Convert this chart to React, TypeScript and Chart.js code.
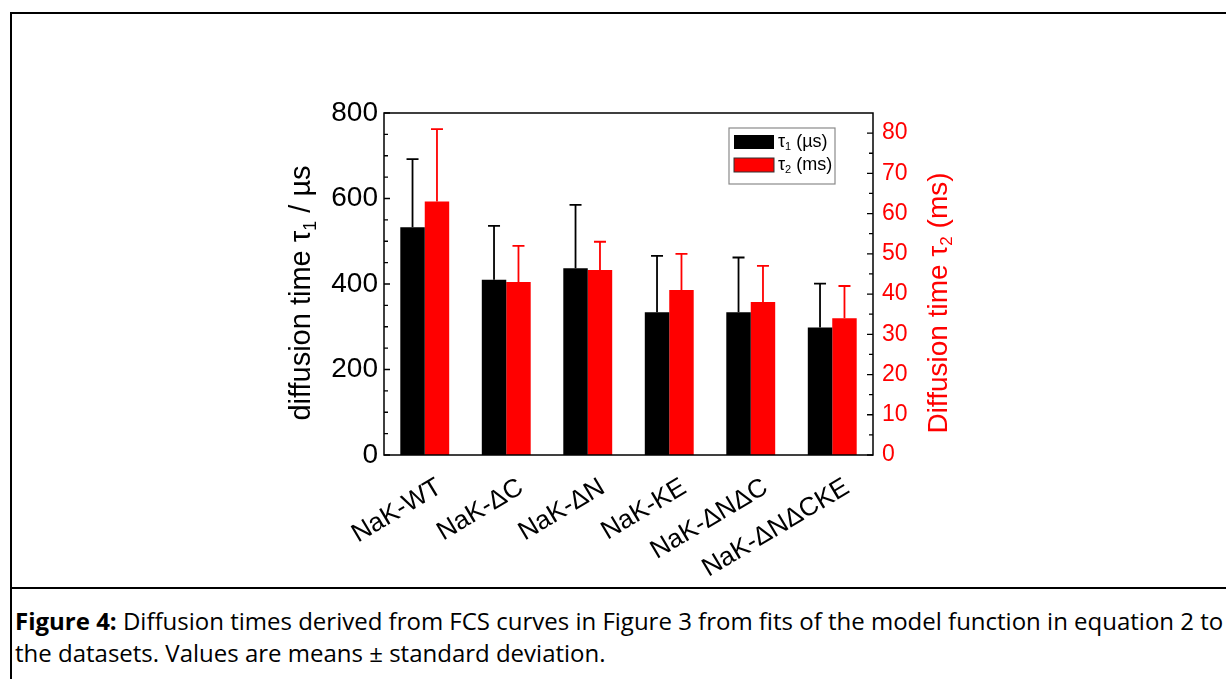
import React, { useEffect, useRef } from "react";
import { Chart, registerables } from "chart.js";

Chart.register(...registerables);

// ---- data ----
const categories = ["NaK-WT", "NaK-ΔC", "NaK-ΔN", "NaK-KE", "NaK-ΔNΔC", "NaK-ΔNΔCKE"];
const tau1Mean = [533, 410, 437, 334, 334, 298]; // µs
const tau1SD = [159, 126, 148, 132, 128, 103];
const tau2Mean = [63, 43, 46, 41, 38, 34]; // ms
const tau2SD = [18, 9, 7, 9, 9, 8];

const leftTicks = [0, 200, 400, 600, 800];
const leftMinorTicks = [50, 100, 150, 250, 300, 350, 450, 500, 550, 650, 700, 750];
const rightTicks = [0, 10, 20, 30, 40, 50, 60, 70, 80];
const rightMinorTicks = [5, 15, 25, 35, 45, 55, 65, 75];

const leftTitle = [{ text: "diffusion time τ" }, { text: "1", sub: true }, { text: " / µs" }];
const rightTitle = [{ text: "Diffusion time τ" }, { text: "2", sub: true }, { text: " (ms)" }];
const legend1 = [{ text: "τ" }, { text: "1", sub: true }, { text: " (µs)" }];
const legend2 = [{ text: "τ" }, { text: "2", sub: true }, { text: " (ms)" }];

const BLACK = "#000000";
const RED = "#ff0000";
const FONT = "'Liberation Sans', Arial, Helvetica, sans-serif";

function measureParts(ctx: any, parts: any[], size: number) {
  const mainFont = `${size}px ${FONT}`;
  const subFont = `${Math.round(size * 0.62)}px ${FONT}`;
  let total = 0;
  const widths = parts.map((p) => {
    ctx.font = p.sub ? subFont : mainFont;
    const w = ctx.measureText(p.text).width;
    total += w;
    return w;
  });
  return { widths, total, mainFont, subFont };
}

function drawParts(ctx: any, parts: any[], size: number, color: string, x: number, y: number, angle: number, centered: boolean) {
  ctx.save();
  ctx.translate(x, y);
  ctx.rotate(angle);
  ctx.fillStyle = color;
  ctx.textBaseline = "middle";
  ctx.textAlign = "left";
  const m = measureParts(ctx, parts, size);
  let cx = centered ? -m.total / 2 : 0;
  parts.forEach((p, i) => {
    ctx.font = p.sub ? m.subFont : m.mainFont;
    ctx.fillText(p.text, cx, p.sub ? size * 0.3 : 0);
    cx += m.widths[i];
  });
  ctx.restore();
}

const decorPlugin = {
  id: "decor",
  afterDatasetsDraw(chart: any) {
    const ctx = chart.ctx;
    chart.data.datasets.forEach((ds: any, di: number) => {
      const meta = chart.getDatasetMeta(di);
      const scale = chart.scales[ds.yAxisID];
      ctx.save();
      ctx.strokeStyle = ds.errColor;
      ctx.lineWidth = 1.8;
      meta.data.forEach((el: any, i: number) => {
        const top = scale.getPixelForValue(ds.data[i] + ds.errors[i]);
        ctx.beginPath();
        ctx.moveTo(el.x, el.y);
        ctx.lineTo(el.x, top);
        ctx.moveTo(el.x - 6, top);
        ctx.lineTo(el.x + 6, top);
        ctx.stroke();
      });
      ctx.restore();
    });
  },
  afterDraw(chart: any) {
    const ctx = chart.ctx;
    const { left, right, top, bottom } = chart.chartArea;
    const yL = chart.scales.y;
    const yR = chart.scales.y1;
    ctx.save();
    // frame
    ctx.strokeStyle = BLACK;
    ctx.lineWidth = 1.5;
    ctx.strokeRect(left, top, right - left, bottom - top);
    // inward ticks
    ctx.lineWidth = 1.3;
    ctx.beginPath();
    leftTicks.forEach((v) => {
      const p = yL.getPixelForValue(v);
      ctx.moveTo(left, p);
      ctx.lineTo(left + 6, p);
    });
    leftMinorTicks.forEach((v) => {
      const p = yL.getPixelForValue(v);
      ctx.moveTo(left, p);
      ctx.lineTo(left + 4, p);
    });
    rightTicks.forEach((v) => {
      const p = yR.getPixelForValue(v);
      ctx.moveTo(right, p);
      ctx.lineTo(right - 6, p);
    });
    rightMinorTicks.forEach((v) => {
      const p = yR.getPixelForValue(v);
      ctx.moveTo(right, p);
      ctx.lineTo(right - 4, p);
    });
    ctx.stroke();
    ctx.restore();

    // axis titles
    const midY = (top + bottom) / 2;
    drawParts(ctx, leftTitle, 29, BLACK, left - 82, midY + 9, -Math.PI / 2, true);
    drawParts(ctx, rightTitle, 28, RED, right + 66, midY + 19, -Math.PI / 2, true);

    // legend
    const bx = right - 144;
    const by = top + 15;
    ctx.save();
    ctx.fillStyle = "#ffffff";
    ctx.fillRect(bx, by, 106, 56);
    ctx.strokeStyle = "#8a8a8a";
    ctx.lineWidth = 1.2;
    ctx.strokeRect(bx, by, 106, 56);
    ctx.fillStyle = BLACK;
    ctx.fillRect(bx + 5, by + 7, 40, 14);
    ctx.fillStyle = RED;
    ctx.fillRect(bx + 5, by + 30, 40, 14);
    ctx.strokeStyle = "#333";
    ctx.lineWidth = 1;
    ctx.strokeRect(bx + 5, by + 30, 40, 14);
    ctx.restore();
    drawParts(ctx, legend1, 18, BLACK, bx + 49, by + 14, 0, false);
    drawParts(ctx, legend2, 18, BLACK, bx + 49, by + 37, 0, false);
  },
};

export default function App() {
  const ref = useRef<HTMLCanvasElement>(null);

  useEffect(() => {
    if (!ref.current) return;
    const chart = new Chart(ref.current, {
      type: "bar",
      data: {
        labels: categories,
        datasets: [
          {
            label: "τ1 (µs)",
            data: tau1Mean,
            backgroundColor: BLACK,
            borderWidth: 0,
            yAxisID: "y",
            errors: tau1SD,
            errColor: BLACK,
          } as any,
          {
            label: "τ2 (ms)",
            data: tau2Mean,
            backgroundColor: RED,
            borderWidth: 0,
            yAxisID: "y1",
            errors: tau2SD,
            errColor: RED,
          } as any,
        ],
      },
      options: {
        responsive: false,
        animation: false,
        devicePixelRatio: 1,
        layout: { padding: { left: 300, right: 300, top: 113, bottom: 0 } },
        datasets: { bar: { categoryPercentage: 0.6, barPercentage: 1.0 } },
        plugins: { legend: { display: false }, tooltip: { enabled: false } },
        scales: {
          x: {
            type: "category",
            offset: true,
            grid: { display: false, drawTicks: false },
            border: { display: false },
            ticks: {
              autoSkip: false,
              minRotation: 31,
              maxRotation: 31,
              padding: 17,
              labelOffset: 15,
              color: BLACK,
              font: { family: FONT, size: 26 },
            },
            afterFit: (s: any) => {
              s.height = 131;
            },
          },
          y: {
            type: "linear",
            position: "left",
            min: 0,
            max: 800,
            grid: { display: false, drawTicks: false },
            border: { display: false },
            ticks: { padding: 6, color: BLACK, font: { family: FONT, size: 28 } },
            afterBuildTicks: (s: any) => {
              s.ticks = leftTicks.map((v) => ({ value: v }));
            },
            afterFit: (s: any) => {
              s.width = 84;
            },
          },
          y1: {
            type: "linear",
            position: "right",
            min: 0,
            max: 85,
            grid: { display: false, drawTicks: false },
            border: { display: false },
            ticks: { padding: 9, color: RED, includeBounds: false, font: { family: FONT, size: 23 } },
            afterBuildTicks: (s: any) => {
              s.ticks = rightTicks.map((v) => ({ value: v }));
            },
            afterFit: (s: any) => {
              s.width = 53;
            },
          },
        },
      } as any,
      plugins: [decorPlugin],
    });
    return () => chart.destroy();
  }, []);

  return (
    <div
      style={{
        position: "absolute",
        left: 0,
        top: 0,
        width: 1226,
        height: 679,
        overflow: "hidden",
        background: "#ffffff",
      }}
    >
      <div
        style={{
          position: "absolute",
          left: 10,
          top: 12,
          width: 1300,
          height: 700,
          borderLeft: "2px solid #000",
          borderTop: "2px solid #000",
        }}
      />
      <div style={{ position: "absolute", left: 10, top: 587, width: 1300, height: 2, background: "#000" }} />
      <canvas
        ref={ref}
        width={1226}
        height={586}
        style={{ position: "absolute", left: 0, top: 0, width: 1226, height: 586 }}
      />
      <div
        style={{
          position: "absolute",
          left: 15,
          top: 605,
          fontFamily: "'Open Sans', sans-serif",
          fontSize: 24,
          lineHeight: "32px",
          whiteSpace: "nowrap",
          color: "#000",
        }}
      >
        <div>
          <b>Figure 4:</b> Diffusion times derived from FCS curves in Figure 3 from fits of the model function in
          equation 2 to
        </div>
        <div>the datasets. Values are means ± standard deviation.</div>
      </div>
    </div>
  );
}
